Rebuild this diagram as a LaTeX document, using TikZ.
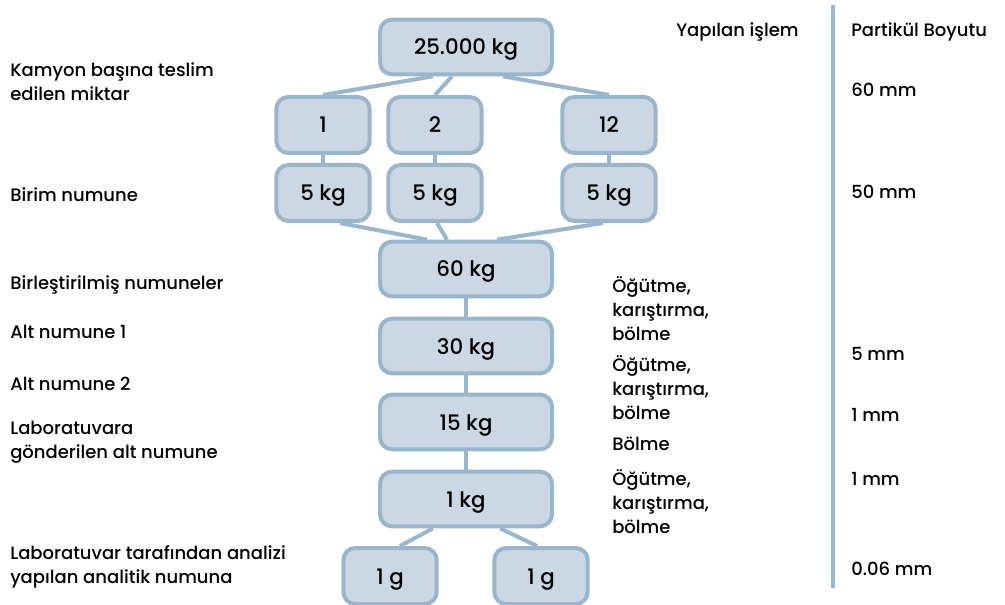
\documentclass[tikz,border=0pt]{standalone}
\usepackage{fontspec}
\setmainfont{Poppins}[UprightFont={* Medium}]
\usetikzlibrary{calc}
\definecolor{boxfill}{HTML}{CBD7E3}
\definecolor{boxline}{HTML}{9AB6CC}

\begin{document}
\begin{tikzpicture}[x=0.75pt,y=-0.75pt,
    wbox/.style={draw=boxline, fill=boxfill, line width=3pt, rounded corners=9pt,
        minimum width=129pt, minimum height=41pt, text height=12.5pt, text depth=0.5pt,
        font=\fontsize{16}{18}\selectfont},
    sbox/.style={wbox, minimum width=70pt, minimum height=42pt},
    link/.style={draw=boxline, line width=3pt},
    lbl/.style={anchor=west, align=left, inner sep=0pt, yshift=-1.5pt, font=\fontsize{13.5}{18}\selectfont}]
                \useasboundingbox (0,0) rectangle (1005,605);

                \node [wbox] (top) at (466,47) {25.000 kg};
                \node [sbox] (n1) at (323,125) {1};
                \node [sbox] (n2) at (435,125) {2};
                \node [sbox] (n12) at (609,125) {12};
                \node [sbox] (k1) at (323,193) {5 kg};
                \node [sbox] (k2) at (435,193) {5 kg};
                \node [sbox] (k12) at (609,193) {5 kg};
                \node [wbox] (kg60) at (466,269) {60 kg};
                \node [wbox] (kg30) at (466,346) {30 kg};
                \node [wbox] (kg15) at (466,422) {15 kg};
                \node [wbox] (kg1) at (466,499) {1 kg};
                \node [sbox] (ga) at (390,576) {1 g};
                \node [sbox] (gb) at (541,576) {1 g};

                \draw [link] ($(top.south)+(-33,0)$) -- (n1.north);
                \draw [link] ($(top.south)+(-14,0)$) -- (n2.north);
                \draw [link] ($(top.south)+(37,0)$) -- (n12.north);
                \draw [link] (n1) -- (k1);
                \draw [link] (n2) -- (k2);
                \draw [link] (n12) -- (k12);
                \draw [link] ($(k1.south)+(17,0)$) -- ($(kg60.north)+(-39,0)$);
                \draw [link] ($(k2.south)+(2,0)$) -- ($(kg60.north)+(-19,0)$);
                \draw [link] ($(k12.south)+(-6,0)$) -- ($(kg60.north)+(31,0)$);
                \draw [link] (kg60) -- (kg30);
                \draw [link] (kg30) -- (kg15);
                \draw [link] (kg15) -- (kg1);
                \draw [link] ($(kg1.south)+(-33,0)$) -- ($(ga.north)+(10,0)$);
                \draw [link] ($(kg1.south)+(34,0)$) -- ($(gb.north)+(-4,0)$);

                \coordinate (rtop) at (833,5);
                \coordinate (rbot) at (833,588);
                \draw [link] (rtop) -- (rbot);

                \node [lbl] (truck) at (10,80) {Kamyon başına teslim\\edilen miktar};
                \node [lbl] (unit) at (10,193) {Birim numune};
                \node [lbl] (comb) at (10,283) {Birleştirilmiş numuneler};
                \node [lbl] (sub1) at (10,330) {Alt numune 1};
                \node [lbl] (sub2) at (10,382) {Alt numune 2};
                \node [lbl] (lab) at (10,440) {Laboratuvara\\gönderilen alt numune};
                \node [lbl] (anl) at (10,565) {Laboratuvar tarafından analizi\\yapılan analitik numuna};

                \node [lbl] (ophead) at (676,30) {Yapılan işlem};
                \node [lbl] (op1) at (612,307) {Öğütme,\\karıştırma,\\bölme};
                \node [lbl] (op2) at (612,386) {Öğütme,\\karıştırma,\\bölme};
                \node [lbl] (op3) at (612,442) {Bölme};
                \node [lbl] (op4) at (612,500) {Öğütme,\\karıştırma,\\bölme};

                \node [lbl] (sizehead) at (851,30) {Partikül Boyutu};
                \node [lbl] (s60) at (851,88) {60 mm};
                \node [lbl] (s50) at (851,190) {50 mm};
                \node [lbl] (s5) at (851,352) {5 mm};
                \node [lbl] (s1a) at (851,413) {1 mm};
                \node [lbl] (s1b) at (851,477) {1 mm};
                \node [lbl] (s006) at (851,567) {0.06 mm};
                \end{tikzpicture}
\end{document}
